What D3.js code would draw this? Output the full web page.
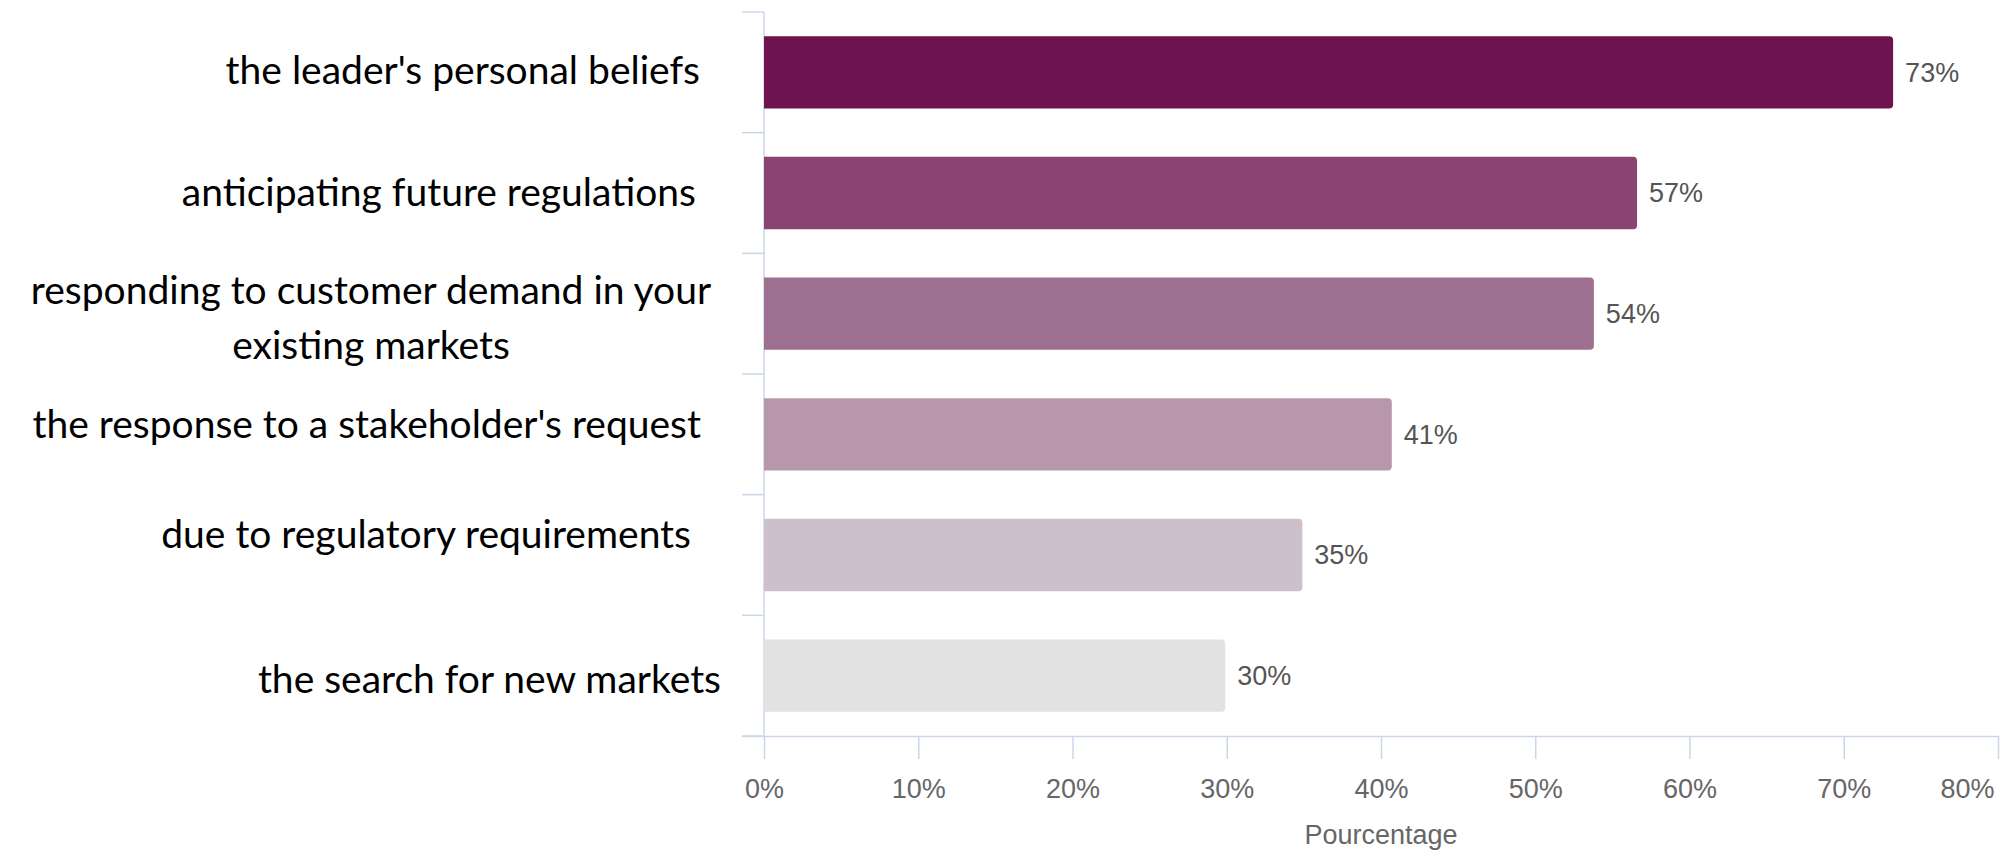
<!DOCTYPE html>
<html><head><meta charset="utf-8">
<script src="https://cdn.jsdelivr.net/npm/d3@7"></script>
<style>html,body{margin:0;padding:0;background:#fff;}svg{display:block;}</style>
</head><body>
<svg id="chart" width="2002" height="852"></svg>
<script>
// ---- data ----
const categories = [
  "the leader's personal beliefs",
  "anticipating future regulations",
  "responding to customer demand in your existing markets",
  "the response to a stakeholder's request",
  "due to regulatory requirements",
  "the search for new markets"
];
const labelLines = [
  ["the leader's personal beliefs"],
  ["anticipating future regulations"],
  ["responding to customer demand in your", "existing markets"],
  ["the response to a stakeholder's request"],
  ["due to regulatory requirements"],
  ["the search for new markets"]
];
const values = [73.2, 56.6, 53.8, 40.7, 34.9, 29.9];
const xTicks = [0, 10, 20, 30, 40, 50, 60, 70, 80];
const axisTitle = "Pourcentage";

// ---- layout / style ----
const colors = ["#6e1350", "#8a4474", "#9e7090", "#b897ae", "#cec0cb", "#e2e2e2"];
const labelNudge = [[0, -2], [-4, -1], [0, 4], [1, -10], [-9, -21], [21, 4]];
const svg = d3.select("#chart");
const mLeft = 764, mRight = 1998, mTop = 12, mBottom = 736;

const x = d3.scaleLinear().domain([0, 80]).range([mLeft, mRight]);
const y = d3.scaleBand().domain(categories).range([mTop, mBottom])
  .paddingInner(0.4).paddingOuter(0.2);

const axisColor = "#ccd6eb";

// bottom axis
const xAxis = d3.axisBottom(x).tickValues(xTicks).tickSize(23).tickFormat(d => d + "%");
const gx = svg.append("g").attr("transform", `translate(0,${mBottom})`).call(xAxis);
gx.select(".domain").attr("stroke", axisColor).attr("stroke-width", 1.5)
  .attr("d", `M${mLeft - 22},0.5H${mRight}`);
gx.selectAll(".tick line").attr("stroke", axisColor).attr("stroke-width", 1.5);
gx.selectAll(".tick text")
  .attr("font-family", "Liberation Sans, Arial, sans-serif")
  .attr("font-size", 27).attr("fill", "#666").attr("dy", "0")
  .attr("y", 62)
  .attr("text-anchor", d => d === 80 ? "end" : "middle")
  .attr("x", d => d === 80 ? -4 : 0);

// left axis line + ticks at band boundaries
svg.append("line").attr("x1", mLeft).attr("x2", mLeft).attr("y1", mTop).attr("y2", mBottom)
  .attr("stroke", axisColor).attr("stroke-width", 1.5);
const bounds = d3.range(categories.length + 1).map(i => mTop + i * y.step());
svg.append("g").selectAll("line").data(bounds).join("line")
  .attr("x1", mLeft - 22).attr("x2", mLeft).attr("y1", d => d).attr("y2", d => d)
  .attr("stroke", axisColor).attr("stroke-width", 1.5);

// bars (rounded right corners)
const r = 4;
svg.append("g").selectAll("path").data(values).join("path")
  .attr("fill", (d, i) => colors[i])
  .attr("d", (d, i) => {
    const x0 = x(0), x1 = x(d), y0 = y(categories[i]), h = y.bandwidth();
    return `M${x0},${y0}H${x1 - r}Q${x1},${y0} ${x1},${y0 + r}V${y0 + h - r}Q${x1},${y0 + h} ${x1 - r},${y0 + h}H${x0}Z`;
  });

// value labels
svg.append("g").selectAll("text").data(values).join("text")
  .attr("x", d => x(d) + 12)
  .attr("y", (d, i) => y(categories[i]) + y.bandwidth() / 2)
  .attr("dy", "0.35em")
  .attr("font-family", "Liberation Sans, Arial, sans-serif")
  .attr("font-size", 27).attr("fill", "#555")
  .text(d => Math.round(d) + "%");

// category labels
const lab = svg.append("g").attr("font-family", "Lato, 'Open Sans', sans-serif")
  .attr("font-size", 39).attr("fill", "#000");
labelLines.forEach((lines, i) => {
  const cy = y(categories[i]) + y.bandwidth() / 2 + labelNudge[i][1];
  const lh = 55;
  const multi = lines.length > 1;
  lines.forEach((t, j) => {
    lab.append("text")
      .attr("x", multi ? 371 : 700 + labelNudge[i][0])
      .attr("y", cy + (j - (lines.length - 1) / 2) * lh)
      .attr("dy", "0.35em")
      .attr("text-anchor", multi ? "middle" : "end")
      .text(t);
  });
});

// axis title
svg.append("text").attr("x", x(40)).attr("y", 835).attr("dy", "0.35em")
  .attr("text-anchor", "middle")
  .attr("font-family", "Liberation Sans, Arial, sans-serif")
  .attr("font-size", 27).attr("fill", "#666").text(axisTitle);
</script>
</body></html>
